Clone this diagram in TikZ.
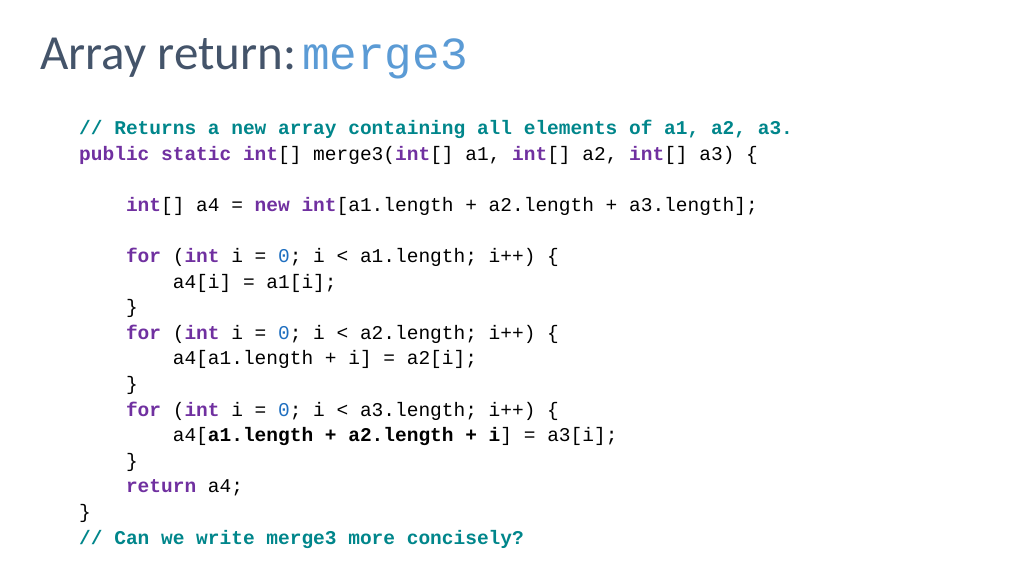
\documentclass[tikz,border=0pt]{standalone}
\usepackage{fontspec}
\setmainfont{Carlito}
\setmonofont{Liberation Mono}
\definecolor{kw}{HTML}{7030A0}
\definecolor{cm}{HTML}{00868B}
\definecolor{nm}{HTML}{1F6FC0}
\definecolor{tt}{HTML}{44546A}
\definecolor{tb}{HTML}{5B9BD5}
\newcommand{\K}[1]{\textbf{\color{kw}#1}}
\newcommand{\C}[1]{\textbf{\color{cm}#1}}
\newcommand{\N}[1]{{\color{nm}#1}}
\begin{document}
\begin{tikzpicture}[x=1pt,y=-1pt,
  code/.style={anchor=base west,inner sep=0pt,font=\fontsize{19.5}{20}\ttfamily}]
\useasboundingbox[fill=white] (0,0) rectangle (1024,576);
\node[anchor=base west,inner sep=0pt,text=tt,font=\fontsize{49}{52}\selectfont] (title) at (40,69) {Array return:\hspace{6pt}{\color{tb}\ttfamily\fontsize{46}{50}\selectfont merge3}};
\def\lx{79}
\node[code] (l1) at (\lx,134) {\C{// Returns a new array containing all elements of a1, a2, a3.}};
\node[code] (l2) at (\lx,160) {\K{public static int}[] merge3(\K{int}[] a1, \K{int}[] a2, \K{int}[] a3) \{};
\node[code] (l3) at (\lx,211) {\phantom{xxxx}\K{int}[] a4 = \K{new int}[a1.length + a2.length + a3.length];};
\node[code] (l4) at (\lx,262) {\phantom{xxxx}\K{for} (\K{int} i = \N{0}; i < a1.length; i++) \{};
\node[code] (l5) at (\lx,288) {\phantom{xxxxxxxx}a4[i] = a1[i];};
\node[code] (l6) at (\lx,313) {\phantom{xxxx}\}};
\node[code] (l7) at (\lx,339) {\phantom{xxxx}\K{for} (\K{int} i = \N{0}; i < a2.length; i++) \{};
\node[code] (l8) at (\lx,364) {\phantom{xxxxxxxx}a4[a1.length + i] = a2[i];};
\node[code] (l9) at (\lx,390) {\phantom{xxxx}\}};
\node[code] (l10) at (\lx,416) {\phantom{xxxx}\K{for} (\K{int} i = \N{0}; i < a3.length; i++) \{};
\node[code] (l11) at (\lx,441) {\phantom{xxxxxxxx}a4[\textbf{a1.length + a2.length + i}] = a3[i];};
\node[code] (l12) at (\lx,467) {\phantom{xxxx}\}};
\node[code] (l13) at (\lx,492) {\phantom{xxxx}\K{return} a4;};
\node[code] (l14) at (\lx,518) {\}};
\node[code] (l15) at (\lx,544) {\C{// Can we write merge3 more concisely?}};
\end{tikzpicture}
\end{document}
